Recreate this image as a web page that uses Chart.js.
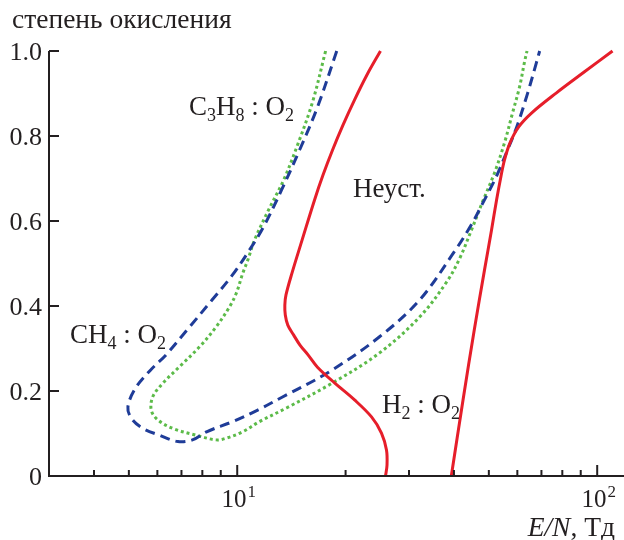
<!DOCTYPE html>
<html><head><meta charset="utf-8">
<script src="https://cdn.jsdelivr.net/npm/chart.js@4"></script>
<style>html,body{margin:0;padding:0;background:#fff}</style>
</head><body>
<canvas id="c" width="624" height="540"></canvas>
<script>
// ---- data (E/N in Td, oxidation degree) ----
const h2LeftE   = [25.0, 22.94, 21.18, 19.68, 18.40, 17.31, 16.39, 15.14, 14.20, 13.66, 13.56, 13.60, 13.82, 14.34, 14.94, 15.73, 16.71, 18.64, 21.18, 23.61, 25.16, 25.98, 26.07, 25.82];
const h2LeftOx  = [1.0, 0.944, 0.885, 0.826, 0.767, 0.708, 0.649, 0.555, 0.478, 0.426, 0.402, 0.379, 0.355, 0.332, 0.308, 0.285, 0.256, 0.219, 0.179, 0.139, 0.101, 0.061, 0.026, 0];
const h2RightE  = [39.33, 42.39, 45.56, 48.64, 50.87, 52.52, 54.06, 55.27, 57.25, 60.45, 65.69, 76.91, 92.19, 110.3];
const h2RightOx = [0, 0.179, 0.344, 0.485, 0.579, 0.649, 0.706, 0.744, 0.784, 0.821, 0.854, 0.901, 0.951, 1.0];
const ch4E  = [18.9, 16.71, 14.90, 13.28, 11.83, 10.82, 9.70, 8.51, 7.26, 6.34, 5.74, 5.22, 4.97, 5.08, 5.47, 6.08, 6.84, 7.51, 8.22, 9.72, 11.4, 13.36, 18.0, 24.8, 32.1, 40.1, 44.7, 48.1, 52.4, 55.9, 59.8, 64.1, 67.7, 69.2];
const ch4Ox = [1.0, 0.868, 0.767, 0.673, 0.586, 0.532, 0.473, 0.414, 0.344, 0.285, 0.249, 0.207, 0.163, 0.136, 0.112, 0.096, 0.081, 0.085, 0.104, 0.128, 0.155, 0.186, 0.245, 0.327, 0.414, 0.528, 0.591, 0.642, 0.704, 0.760, 0.822, 0.901, 0.971, 1.0];
const c3h8E  = [17.6, 16.19, 14.71, 13.45, 12.22, 11.17, 10.70, 10.36, 9.94, 9.52, 8.74, 7.86, 6.91, 6.21, 5.83, 5.77, 6.02, 6.62, 7.69, 8.74, 9.32, 10.36, 11.53, 13.7, 18.4, 24.8, 32.1, 38.14, 41.44, 44.75, 48.02, 51.84, 55.27, 58.17, 60.84, 62.81, 63.83];
const c3h8Ox = [1.0, 0.880, 0.779, 0.696, 0.626, 0.555, 0.508, 0.477, 0.430, 0.398, 0.351, 0.304, 0.257, 0.218, 0.187, 0.155, 0.132, 0.112, 0.096, 0.085, 0.089, 0.104, 0.128, 0.160, 0.219, 0.289, 0.374, 0.456, 0.511, 0.579, 0.645, 0.713, 0.784, 0.854, 0.915, 0.974, 1.0];
const yTickValues = [0, 0.2, 0.4, 0.6, 0.8, 1.0];
const yTickLabels = ['0', '0.2', '0.4', '0.6', '0.8', '1.0'];
const xMajorValues = [10, 100];
const xMajorExp = ['1', '2'];
const xMinorValues = [4, 5, 6, 7, 8, 9, 20, 30, 40, 50, 60, 70, 80, 90];
const yTitle = 'степень окисления';
const seriesLabels = ['H2 : O2', 'CH4 : O2', 'C3H8 : O2'];
const regionLabel = 'Неуст.';

const pts = (xs, ys) => xs.map((x, i) => ({x: x, y: ys[i]}));
const RED = '#e61e2a', BLUE = '#1f3c98', GREEN = '#5cbb49', INK = '#231f20';
const SERIF = '"Liberation Serif", "DejaVu Serif", serif';

function chem(ctx, x, y, parts) {
  let cx = x;
  for (const [t, sub] of parts) {
    ctx.font = (sub ? '18px ' : '27px ') + SERIF;
    ctx.fillText(t, cx, y + (sub ? 6 : 0));
    cx += ctx.measureText(t).width;
  }
}

const decor = {
  id: 'decor',
  afterDatasetsDraw(chart) {
    const ctx = chart.ctx, xs = chart.scales.x, ys = chart.scales.y;
    const a = chart.chartArea;
    ctx.save();
    ctx.strokeStyle = INK; ctx.fillStyle = INK; ctx.lineWidth = 2;
    ctx.beginPath();
    ctx.moveTo(a.left, a.top); ctx.lineTo(a.left, a.bottom); ctx.lineTo(a.right, a.bottom);
    ctx.stroke();
    // y ticks
    ctx.textAlign = 'right'; ctx.textBaseline = 'middle';
    ctx.font = '26px ' + SERIF;
    yTickValues.forEach((v, i) => {
      const py = ys.getPixelForValue(v);
      ctx.beginPath(); ctx.moveTo(a.left, py); ctx.lineTo(a.left + 10, py); ctx.stroke();
      ctx.fillText(yTickLabels[i], 42, py + 2);
    });
    // x ticks
    xMinorValues.forEach(v => {
      const px = xs.getPixelForValue(v);
      ctx.beginPath(); ctx.moveTo(px, a.bottom); ctx.lineTo(px, a.bottom - 6); ctx.stroke();
    });
    ctx.textAlign = 'left'; ctx.textBaseline = 'alphabetic';
    xMajorValues.forEach((v, i) => {
      const px = xs.getPixelForValue(v);
      ctx.beginPath(); ctx.moveTo(px, a.bottom); ctx.lineTo(px, a.bottom - 11); ctx.stroke();
      ctx.font = '25px ' + SERIF; const w1 = ctx.measureText('10').width;
      ctx.font = '17px ' + SERIF; const w2 = ctx.measureText(xMajorExp[i]).width;
      const x0 = px - (w1 + w2) / 2 + 1;
      ctx.font = '25px ' + SERIF; ctx.fillText('10', x0, 507);
      ctx.font = '17px ' + SERIF; ctx.fillText(xMajorExp[i], x0 + w1 + 1, 497);
    });
    // titles
    ctx.font = '27.5px ' + SERIF;
    ctx.fillText(yTitle, 12, 28);
    ctx.font = 'italic 27.5px ' + SERIF;
    const wi = ctx.measureText('E/N').width;
    ctx.font = '27.5px ' + SERIF;
    const wr = ctx.measureText(', Тд').width;
    const xt = 615 - wi - wr;
    ctx.font = 'italic 27.5px ' + SERIF;
    ctx.fillText('E/N', xt, 536);
    ctx.font = '27.5px ' + SERIF;
    ctx.fillText(', Тд', xt + wi, 536);
    // annotations
    chem(ctx, 189, 115, [['C',0],['3',1],['H',0],['8',1],[' : O',0],['2',1]]);
    chem(ctx, 70, 343, [['CH',0],['4',1],[' : O',0],['2',1]]);
    chem(ctx, 382, 413, [['H',0],['2',1],[' : O',0],['2',1]]);
    ctx.font = '27px ' + SERIF;
    ctx.fillText(regionLabel, 353, 197);
    ctx.restore();
  }
};

const common = {showLine: true, pointRadius: 0, borderWidth: 3, tension: 0.35, fill: false, clip: false};
new Chart(document.getElementById('c'), {
  type: 'scatter',
  data: {
    datasets: [
      Object.assign({label: seriesLabels[0], data: pts(h2LeftE, h2LeftOx), borderColor: RED}, common),
      Object.assign({label: seriesLabels[0], data: pts(h2RightE, h2RightOx), borderColor: RED}, common),
      Object.assign({label: seriesLabels[1], data: pts(ch4E, ch4Ox), borderColor: BLUE, borderDash: [10, 6]}, common),
      Object.assign({label: seriesLabels[2], data: pts(c3h8E, c3h8Ox), borderColor: GREEN, borderDash: [3, 3]}, common)
    ]
  },
  options: {
    responsive: false, animation: false,
    layout: {padding: {left: 49, right: 0, top: 51, bottom: 64}},
    plugins: {legend: {display: false}, tooltip: {enabled: false}, title: {display: false}},
    scales: {
      x: {type: 'logarithmic', min: 3, max: 118.7, display: false},
      y: {type: 'linear', min: 0, max: 1, display: false}
    }
  },
  plugins: [decor]
});
</script>
</body></html>
